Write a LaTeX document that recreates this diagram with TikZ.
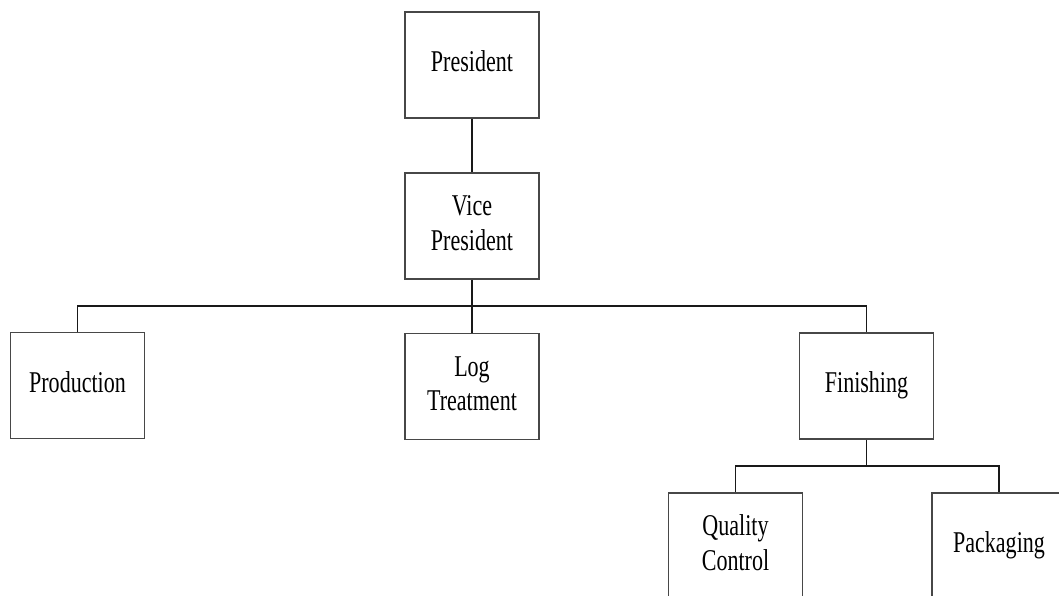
\documentclass[tikz,border=0pt]{standalone}
\usepackage{fontspec}
\setmainfont{Liberation Serif}
\newcommand{\boxtext}[1]{\scalebox{0.76}[1.04]{\fontsize{29}{33}\selectfont\begin{tabular}{@{}c@{}}#1\end{tabular}}}
\begin{document}
\begin{tikzpicture}[x=1pt,y=-1pt,
  unit/.style={draw=black!72, line width=1.9pt, fill=white, minimum width=134pt,
    minimum height=106pt, inner sep=0pt, text=black},
  link/.style={draw=black!90, line width=1.7pt}]
  \clip (0,0) rectangle (1059,595);
  \fill[white] (0,0) rectangle (1059,595);

  % boxes
  \node[unit] (pres) at (472,65)    {\boxtext{President}};
  \node[unit] (vp)   at (472,226)   {\boxtext{Vice\\President}};
  \node[unit] (prod) at (77.5,385.5){\boxtext{Production}};
  \node[unit] (log)  at (472,386.5) {\boxtext{Log\\Treatment}};
  \node[unit] (fin)  at (866.5,386) {\boxtext{Finishing}};
  \node[unit] (qc)   at (735.5,546) {\boxtext{Quality\\Control}};
  \node[unit] (pack) at (999,546)   {\boxtext{Packaging}};

  % branching points
  \coordinate (bus) at (472,306);
  \coordinate (sub) at (866.5,466);

  % connectors
  \draw[link] (pres.south) -- (vp.north);
  \draw[link] (vp.south) -- (bus);
  \draw[link] (prod.north) |- (bus) -| (fin.north);
  \draw[link] (bus) -- (log.north);
  \draw[link] (fin.south) -- (sub);
  \draw[link] (qc.north) |- (sub) -| (pack.north);
\end{tikzpicture}
\end{document}
